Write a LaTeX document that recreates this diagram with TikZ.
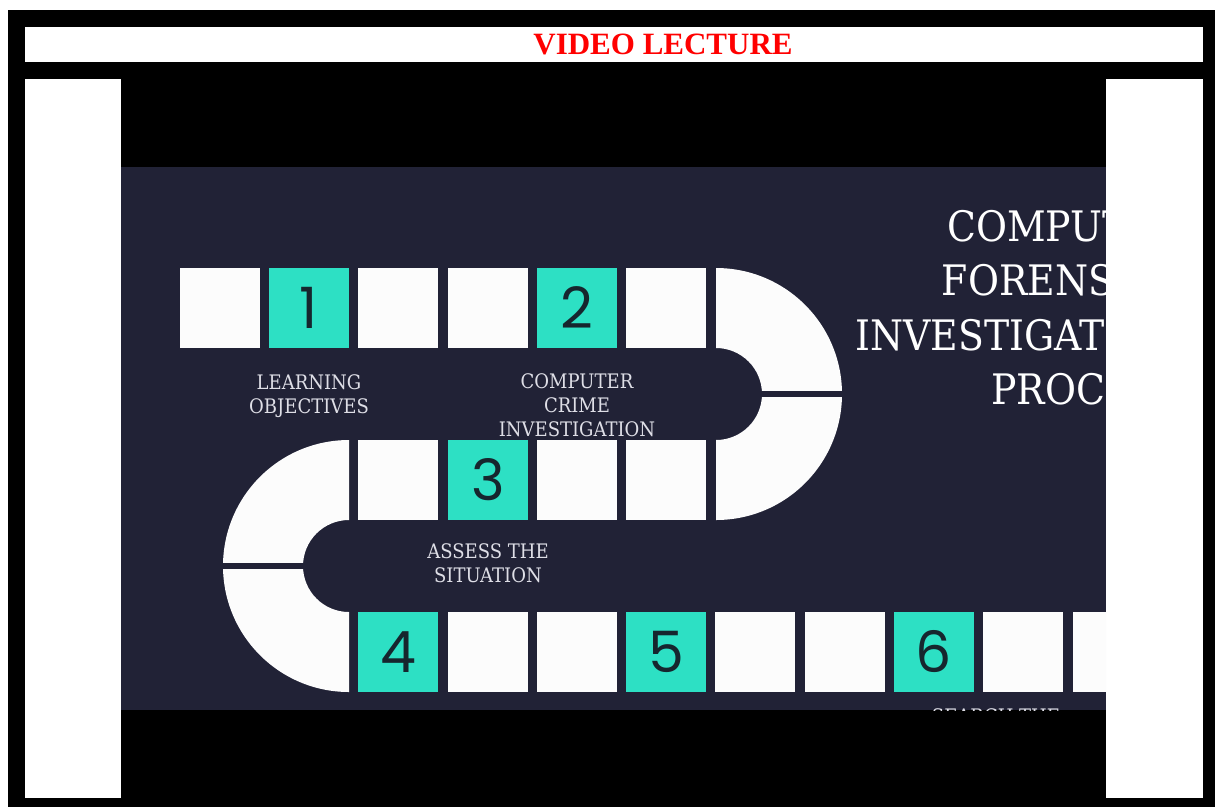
\documentclass[tikz,border=0pt]{standalone}
\usepackage{fontspec}
\usepackage{xcolor}
\usetikzlibrary{positioning}
\newfontfamily\slabfont[FakeStretch=0.9]{DejaVu Serif}
\newfontfamily\numfont{Poppins}
\newfontfamily\headfont{Liberation Serif}

\definecolor{boardnavy}{RGB}{33,34,54}
\definecolor{stepteal}{RGB}{45,224,196}
\definecolor{tilewhite}{RGB}{252,252,252}
\definecolor{labelgray}{RGB}{222,222,230}
\definecolor{digitdark}{RGB}{22,38,46}

\tikzset{
  tile/.style={fill=tilewhite, minimum width=80, minimum height=80, inner sep=0},
  steptile/.style={tile, fill=stepteal, text=digitdark, font=\numfont\fontsize{57}{57}\selectfont},
  steplabel/.style={text=labelgray, align=center, inner sep=0, font=\slabfont\fontsize{20}{24}\selectfont},
  turnpiece/.style={fill=tilewhite},
  turnsplit/.style={draw=boardnavy, line width=6}
}

\begin{document}
\begin{tikzpicture}[x=1pt, y=-1pt]
  \useasboundingbox (0,0) rectangle (1215,807);

  % frame, header bar and screen
  \fill[black] (8,10) rectangle (1215,807);
  \fill[white] (25,27) rectangle (1203,62);
  \fill[white] (25,79) rectangle (1203,798);
  \fill[black] (121,79) rectangle (1106,798);
  \node[text=red, inner sep=0, anchor=base, font=\headfont\bfseries\fontsize{31}{31}\selectfont]
    (head) at (663,54) {VIDEO LECTURE};

  \begin{scope}
    \clip (121,167) rectangle (1106,710);
    \fill[boardnavy] (121,167) rectangle (1106,710);

    % the two u-turns (y runs downwards, so angles turn the other way)
    \fill[turnpiece] (716,268) arc[start angle=-90, end angle=90, radius=126]
      -- (716,440) arc[start angle=90, end angle=-90, radius=46] -- cycle;
    \draw[turnsplit] (760,394) -- (844,394);
    \fill[turnpiece] (349,440) arc[start angle=-90, end angle=-270, radius=126]
      -- (349,612) arc[start angle=90, end angle=270, radius=46] -- cycle;
    \draw[turnsplit] (221,566) -- (305,566);

    % rows of squares
    \foreach \x/\s/\t [count=\i] in {220/tile/{}, 309/steptile/1, 398/tile/{},
        488/tile/{}, 577/steptile/2, 666/tile/{}}
      \node[\s] (a\i) at (\x,308) {\t};
    \foreach \x/\s/\t [count=\i] in {398/tile/{}, 488/steptile/3, 577/tile/{}, 666/tile/{}}
      \node[\s] (b\i) at (\x,480) {\t};
    \foreach \x/\s/\t [count=\i] in {398/steptile/4, 488/tile/{}, 577/tile/{},
        666/steptile/5, 755/tile/{}, 845/tile/{}, 934/steptile/6, 1023/tile/{}, 1113/tile/{}}
      \node[\s] (c\i) at (\x,652) {\t};

    % step names
    \node[steplabel, below=26pt of a2] (learn) {LEARNING\\OBJECTIVES};
    \node[steplabel, below=25pt of a5] (crime) {COMPUTER\\CRIME\\INVESTIGATION};
    \node[steplabel, below=23pt of b2] (assess) {ASSESS THE\\SITUATION};
    \node[steplabel, anchor=base] (search) at (996,723) {SEARCH THE};

    \node[text=white, align=right, inner sep=0, anchor=north east,
      font=\slabfont\fontsize{42}{54.5}\selectfont] (title) at (1184,210)
      {COMPUTER\\FORENSICS\\INVESTIGATION\\PROCESS};
  \end{scope}
\end{tikzpicture}
\end{document}
